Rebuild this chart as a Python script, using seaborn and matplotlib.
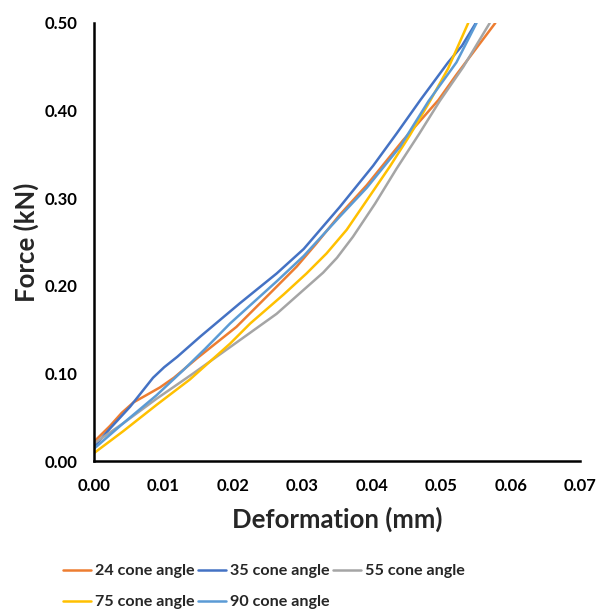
import matplotlib
matplotlib.use("Agg")
import matplotlib.pyplot as plt
import seaborn as sns
import pandas as pd
from matplotlib.ticker import FormatStrFormatter, MultipleLocator

# Force-deformation curves for each cone angle
angle_24_x = [0.0000, 0.0023, 0.0040, 0.0057, 0.0075, 0.0095, 0.0115, 0.0148, 0.0205, 0.0253,
              0.0292, 0.0320, 0.0354, 0.0393, 0.0445, 0.0496, 0.0522, 0.0578]
angle_24_y = [0.022, 0.040, 0.055, 0.067, 0.075, 0.084, 0.095, 0.117, 0.153, 0.191,
              0.222, 0.248, 0.281, 0.315, 0.366, 0.412, 0.441, 0.500]

angle_35_x = [0.0000, 0.0023, 0.0052, 0.0070, 0.0085, 0.0101, 0.0120, 0.0153, 0.0210, 0.0263,
              0.0302, 0.0354, 0.0402, 0.0436, 0.0470, 0.0510, 0.0530, 0.0550]
angle_35_y = [0.016, 0.037, 0.062, 0.080, 0.095, 0.107, 0.119, 0.142, 0.180, 0.214,
              0.242, 0.290, 0.337, 0.374, 0.412, 0.455, 0.474, 0.500]

angle_55_x = [0.0000, 0.0042, 0.0090, 0.0143, 0.0196, 0.0263, 0.0300, 0.0330, 0.0350, 0.0373,
              0.0405, 0.0436, 0.0468, 0.0498, 0.0532, 0.0570]
angle_55_y = [0.020, 0.043, 0.071, 0.100, 0.130, 0.168, 0.194, 0.215, 0.232, 0.256,
              0.294, 0.334, 0.373, 0.411, 0.450, 0.500]

angle_75_x = [0.0000, 0.0042, 0.0090, 0.0138, 0.0196, 0.0225, 0.0273, 0.0306, 0.0335, 0.0364,
              0.0395, 0.0426, 0.0455, 0.0484, 0.0510, 0.0539]
angle_75_y = [0.009, 0.034, 0.064, 0.093, 0.134, 0.157, 0.190, 0.214, 0.237, 0.264,
              0.300, 0.336, 0.372, 0.411, 0.448, 0.500]

angle_90_x = [0.0000, 0.0042, 0.0090, 0.0129, 0.0160, 0.0196, 0.0263, 0.0302, 0.0354, 0.0393,
              0.0441, 0.0482, 0.0522, 0.0551]
angle_90_y = [0.014, 0.043, 0.075, 0.104, 0.128, 0.157, 0.205, 0.234, 0.279, 0.312,
              0.359, 0.411, 0.455, 0.500]

series_names = ["24 cone angle", "35 cone angle", "55 cone angle", "75 cone angle", "90 cone angle"]
series_x = [angle_24_x, angle_35_x, angle_55_x, angle_75_x, angle_90_x]
series_y = [angle_24_y, angle_35_y, angle_55_y, angle_75_y, angle_90_y]
colors = ["#ED7D31", "#4472C4", "#A5A5A5", "#FFC000", "#5B9BD5"]

frames = []
for name, xs, ys in zip(series_names, series_x, series_y):
    frames.append(pd.DataFrame({"Deformation": xs, "Force": ys, "Series": name}))
df = pd.concat(frames, ignore_index=True)

sns.set_style("white")
plt.rcParams["font.family"] = ["Lato", "DejaVu Sans"]

fig = plt.figure(figsize=(5.97, 6.13), dpi=100)
ax = fig.add_axes([94 / 597, 1 - 461 / 613, (580 - 94) / 597, (461 - 23) / 613])

sns.lineplot(data=df, x="Deformation", y="Force", hue="Series",
             hue_order=series_names, palette=dict(zip(series_names, colors)),
             estimator=None, sort=False, linewidth=1.8, ax=ax, legend=False)

ax.set_xlim(0, 0.07)
ax.set_ylim(0, 0.5)
ax.xaxis.set_major_locator(MultipleLocator(0.01))
ax.yaxis.set_major_locator(MultipleLocator(0.1))
ax.xaxis.set_major_formatter(FormatStrFormatter("%.2f"))
ax.yaxis.set_major_formatter(FormatStrFormatter("%.2f"))

for side in ["top", "right"]:
    ax.spines[side].set_visible(False)
for side in ["left", "bottom"]:
    ax.spines[side].set_linewidth(1.8)
    ax.spines[side].set_color("black")

ax.tick_params(axis="both", direction="in", length=4, width=1.5, colors="black",
               labelsize=12, pad=12)
for lbl in ax.get_xticklabels() + ax.get_yticklabels():
    lbl.set_fontweight("bold")

ax.set_xlabel("Deformation (mm)", fontsize=18.5, fontweight="bold", labelpad=9)
ax.set_ylabel("Force (kN)", fontsize=18.5, fontweight="bold", labelpad=4)

# Legend: two rows, column-wise fill so 75/90 sit under 24/35
handles = [plt.Line2D([], [], color=c, linewidth=1.8) for c in colors]
order = [0, 3, 1, 4, 2]
fig.legend([handles[i] for i in order], [series_names[i] for i in order],
           loc="center", bbox_to_anchor=(0.442, 0.043), ncol=3, frameon=False,
           prop={"size": 11.6, "weight": "bold"}, handlelength=1.7,
           handletextpad=0.25, columnspacing=0.25, labelspacing=1.05)

fig.savefig("out.png", dpi=100)
